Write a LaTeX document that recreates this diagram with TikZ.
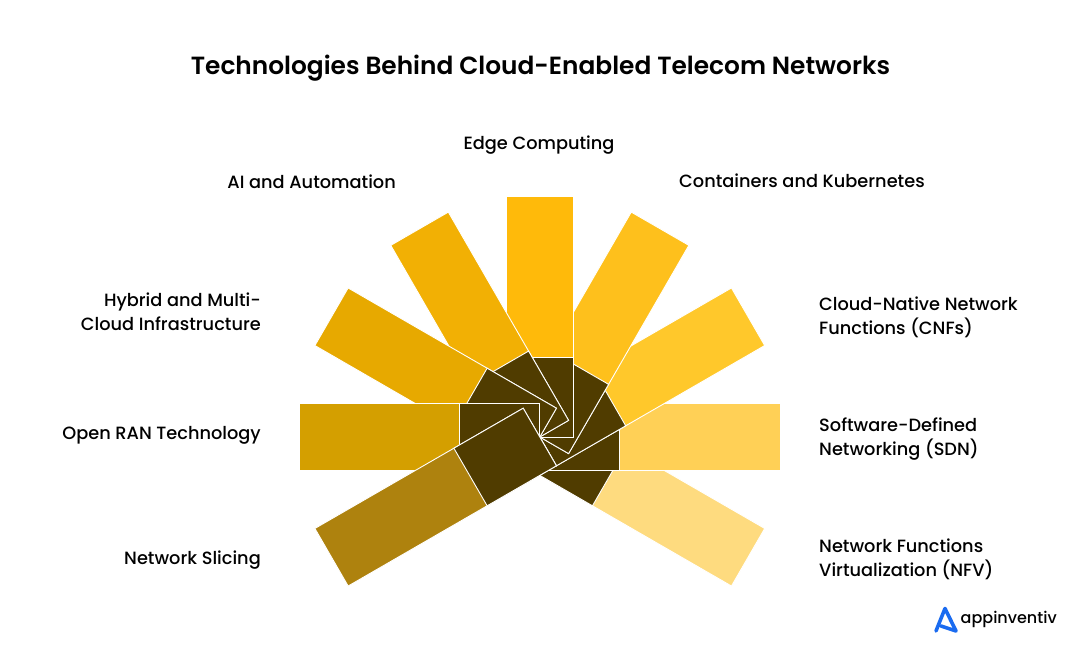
\documentclass[tikz,border=0pt]{standalone}
\usepackage{fontspec}
\setmainfont{Poppins Medium}
\newfontfamily\titlefont{Poppins SemiBold}
\usetikzlibrary{positioning}
\definecolor{core}{HTML}{503C00}
\definecolor{nfv}{HTML}{FEDB7F}
\definecolor{sdn}{HTML}{FFD056}
\definecolor{cnf}{HTML}{FFC82B}
\definecolor{k8s}{HTML}{FEC01C}
\definecolor{edge}{HTML}{FFBA0A}
\definecolor{aiauto}{HTML}{F2B004}
\definecolor{hybrid}{HTML}{E7A900}
\definecolor{oran}{HTML}{D49F00}
\definecolor{slice}{HTML}{AE820E}
\definecolor{logo}{HTML}{1A6BF0}
\tikzset{
	bar/.style={draw=white,line width=0.9pt,minimum width=240.5pt,minimum height=66.5pt,anchor=west,inner sep=0pt,outer sep=0pt},
	hubpart/.style={bar,fill=core,minimum width=80pt},
	label/.style={font=\fontsize{17.75}{24}\selectfont,text=black,inner sep=0pt},
	lside/.style={label,anchor=east,align=right},
	rside/.style={label,anchor=west,align=left}
}
\begin{document}
\begin{tikzpicture}[x=1pt,y=-1pt]
	\useasboundingbox[fill=white] (0,0) rectangle (1080,658);
	\coordinate (hub) at (539.8,437);
	\foreach \ang/\col/\nam in {-30/nfv/nfv,0/sdn/sdn,30/cnf/cnf,60/k8s/kube,90/edge/edge,120/aiauto/ai,150/hybrid/hyb,180/oran/oran,210/slice/slc}{
		\node[bar,fill=\col,rotate=\ang] (bar\nam) at (hub) {};
		\node[hubpart,rotate=\ang] (part\nam) at (hub) {};
	}
	\node[font=\fontsize{24.85}{30}\selectfont\titlefont,inner sep=0pt] (title) at (540.5,68) {Technologies Behind Cloud-Enabled Telecom Networks};
	\node[label] (ledge) at (539,145) {Edge Computing};
	\node[lside] (lai) at (396,181.5) {AI and Automation};
	\node[rside] (lkube) at (679,181) {Containers and Kubernetes};
	\node[lside] (lhyb) at (261,312) {Hybrid and Multi-\\Cloud Infrastructure};
	\node[rside] (lcnf) at (819,317.5) {Cloud-Native Network\\Functions (CNFs)};
	\node[lside] (loran) at (261,435.5) {Open RAN Technology};
	\node[rside] (lsdn) at (819,439) {Software-Defined\\Networking (SDN)};
	\node[lside] (lslc) at (261,560.5) {Network Slicing};
	\node[rside] (lnfv) at (819,559) {Network Functions\\Virtualization (NFV)};
	\draw[logo,line width=3.6pt,line join=round,line cap=round] (936,631) -- (945,608.5) -- (956,631) -- (941,626);
	\node[font=\fontsize{16}{20}\selectfont,inner sep=0pt,anchor=west] (brand) at (960.5,619) {appinventiv};
\end{tikzpicture}
\end{document}
